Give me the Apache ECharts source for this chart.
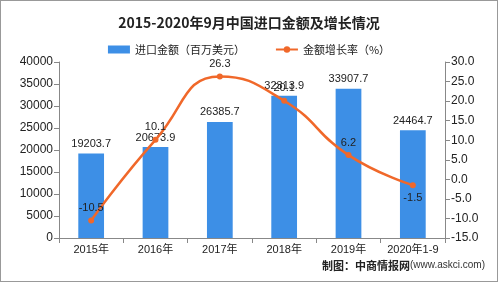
<!DOCTYPE html>
<html><head><meta charset="utf-8">
<script src="https://cdn.jsdelivr.net/npm/echarts@6/dist/echarts.min.js"></script>
<style>
html,body{margin:0;padding:0;background:#fff;}
#c{width:498px;height:282px;box-sizing:border-box;border:1px solid #999;}
</style></head>
<body><div id="c"></div>
<script>
const categories = ['2015年','2016年','2017年','2018年','2019年','2020年1-9'];
const importValues = [19203.7, 20673.9, 26385.7, 32313.9, 33907.7, 24464.7];
const growthRates = [-10.5, 10.1, 26.3, 20.1, 6.2, -1.5];
const growthLabelPos = ['top','top','top','top','top','bottom'];

const chart = echarts.init(document.getElementById('c'));
const font = '"Liberation Sans", "Noto Sans CJK SC", sans-serif';
chart.setOption({
  animation: false,
  title: {
    text: '2015-2020年9月中国进口金额及增长情况',
    left: 'center', top: 10,
    textStyle: {fontSize: 14, fontWeight: 'bold', color: '#222', fontFamily: '"Noto Sans CJK SC", sans-serif'}
  },
  legend: {
    top: 38, left: 'center', itemGap: 30, itemWidth: 22, itemHeight: 8,
    textStyle: {fontSize: 11, color: '#222', fontFamily: '"Noto Sans CJK SC", sans-serif'},
    data: [{name: '进口金额（百万美元）', icon: 'rect'}, {name: '金额增长率（%）'}]
  },
  grid: {left: 58, right: 52, top: 61, bottom: 43},
  xAxis: {
    type: 'category', data: categories,
    axisLine: {lineStyle: {color: '#888'}},
    axisTick: {show: true, alignWithLabel: false, lineStyle: {color: '#888'}},
    axisLabel: {color: '#222', fontSize: 11, fontFamily: font, margin: 6, interval: 0}
  },
  yAxis: [
    {type: 'value', min: 0, max: 40000, interval: 5000,
     axisLine: {show: true, lineStyle: {color: '#888'}},
     axisTick: {show: true, lineStyle: {color: '#888'}},
     splitLine: {show: false},
     axisLabel: {color: '#222', fontSize: 12, fontFamily: font, margin: 6, formatter: v => String(v)}},
    {type: 'value', min: -15, max: 30, interval: 5,
     axisLine: {show: true, lineStyle: {color: '#888'}},
     axisTick: {show: true, lineStyle: {color: '#888'}},
     splitLine: {show: false},
     axisLabel: {color: '#222', fontSize: 12, fontFamily: font, margin: 6,
                 formatter: v => v.toFixed(1)}}
  ],
  series: [
    {name: '进口金额（百万美元）', type: 'bar', data: importValues, barWidth: '40%',
     itemStyle: {color: '#3d8fe6'},
     label: {show: true, position: 'top', distance: 4, color: '#222', fontSize: 11, fontFamily: font}},
    {name: '金额增长率（%）', type: 'line', yAxisIndex: 1, smooth: true,
     data: growthRates.map((v, i) => ({value: v, label: {position: growthLabelPos[i]}})),
     symbol: 'circle', symbolSize: 6,
     lineStyle: {color: '#f0682a', width: 2.5},
     itemStyle: {color: '#f0682a'},
     label: {show: true, color: '#222', fontSize: 11, fontFamily: font, distance: 4}}
  ],
  graphic: [{
    type: 'text', right: 12, top: 259,
    style: {
      text: '{a|制图：中商情报网}{b|(www.askci.com)}',
      rich: {
        a: {fontSize: 11, fontWeight: 'bold', fill: '#222', fontFamily: '"Noto Sans CJK SC", sans-serif'},
        b: {fontSize: 10, fill: '#333', fontFamily: font}
      }
    }
  }]
});
</script></body></html>
